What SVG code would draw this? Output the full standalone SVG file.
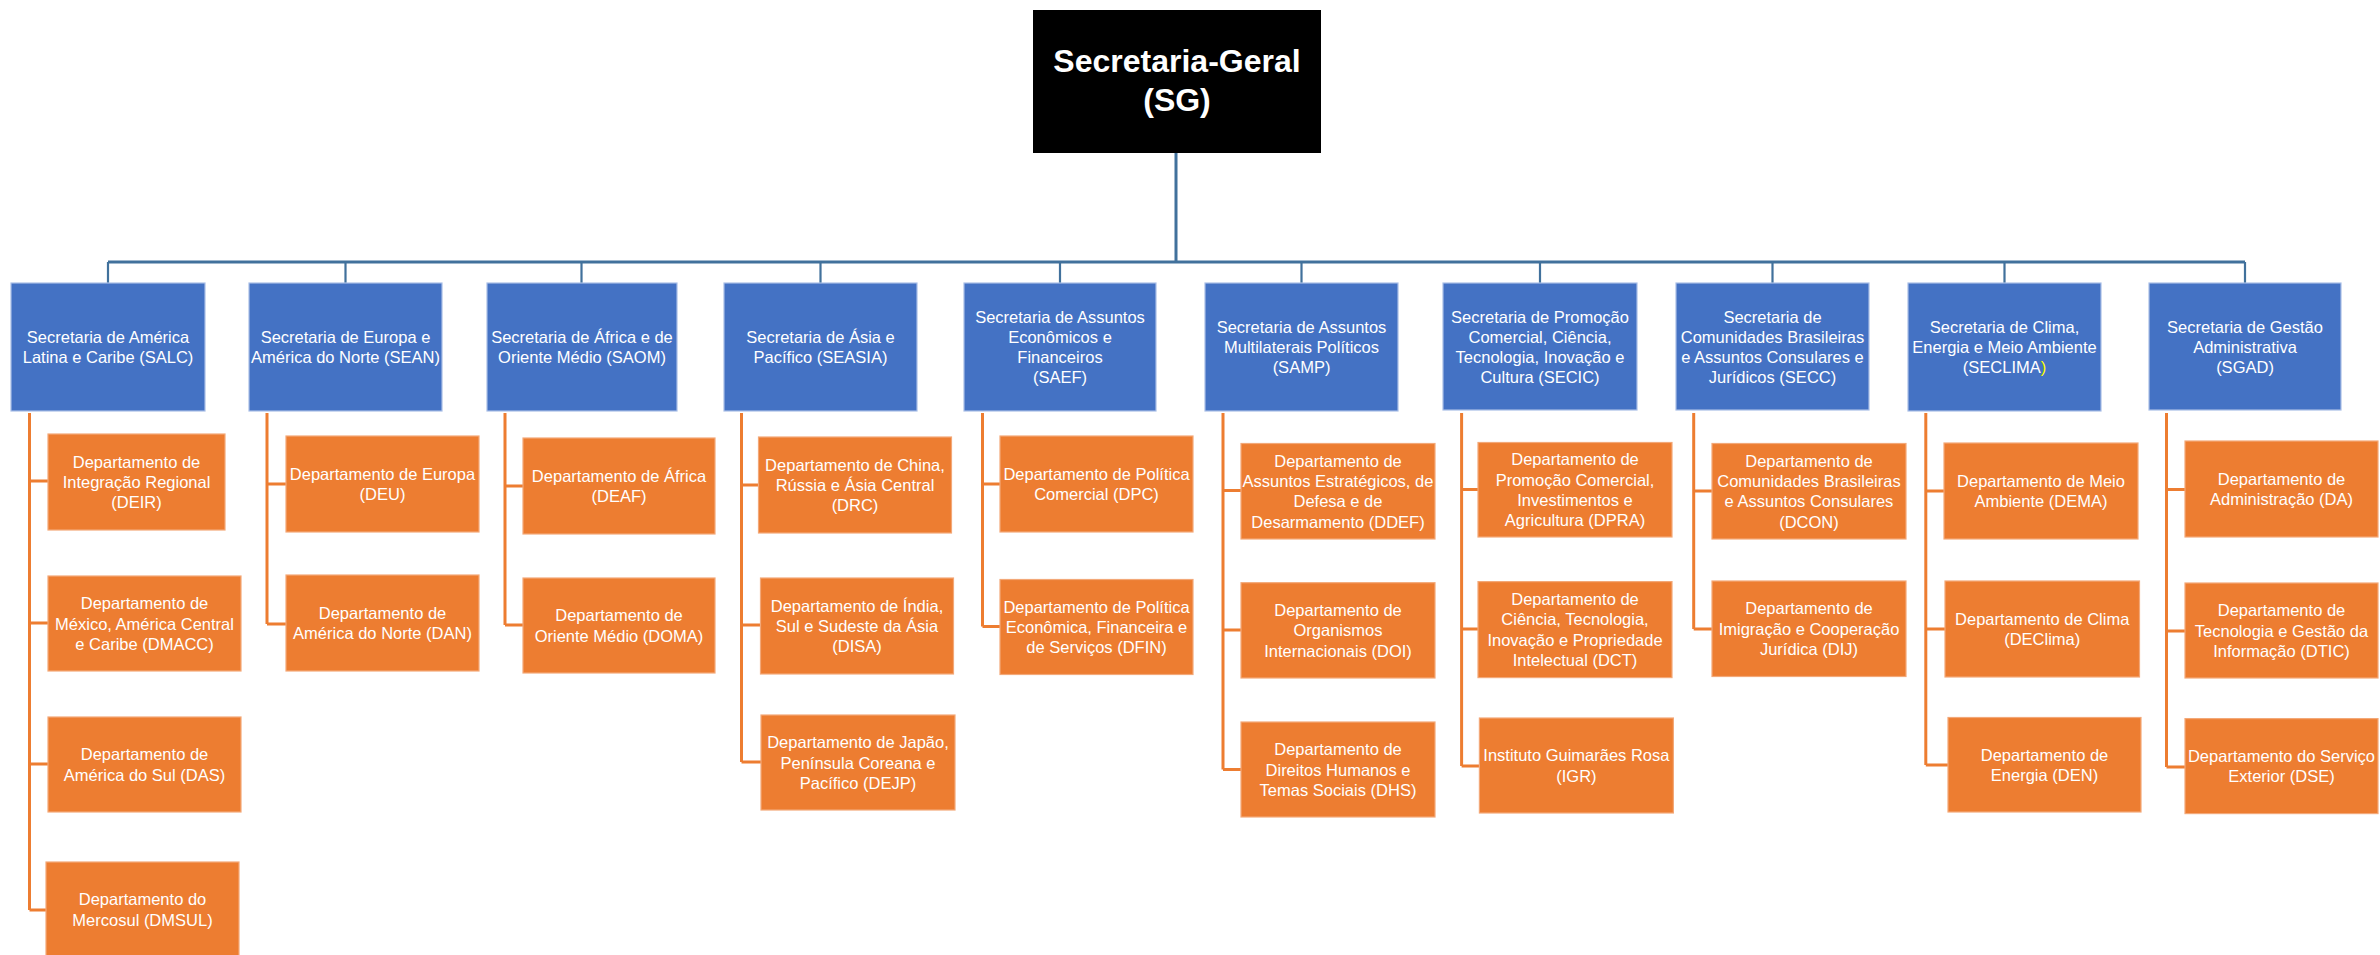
<svg xmlns="http://www.w3.org/2000/svg" width="2380" height="955" viewBox="0 0 2380 955">
<style>
.bg{fill:#ffffff}
.hdr{fill:#000000}
.sec{fill:#4472C4;stroke:#A9BEE6;stroke-width:1.2}
.dep{fill:#ED7D31;stroke:#F3A878;stroke-width:1.2}
.ht{font-family:"Liberation Sans",Arial,sans-serif;font-size:32px;font-weight:bold;fill:#ffffff;text-anchor:middle}
.st{font-family:"Liberation Sans",Arial,sans-serif;font-size:16.5px;fill:#ffffff;text-anchor:middle}
.dt{font-family:"Liberation Sans",Arial,sans-serif;font-size:16.5px;fill:#ffffff;text-anchor:middle}
.cb{stroke:#41719C;fill:none;stroke-width:2.2}
.cbm{stroke:#41719C;fill:none;stroke-width:3}
.co{stroke:#ED7D31;fill:none;stroke-width:3}
</style>
<rect class="bg" x="0" y="0" width="2380" height="955"/>

<g id="connectors">
  <path class="cbm" d="M1176,153 V262 M108,262 H2245"/>
  <path class="cb" d="M108,262 V283 M345.5,262 V283 M581.5,262 V283 M820.5,262 V283 M1060,262 V283 M1301.5,262 V283 M1540,262 V283 M1772.5,262 V283 M2004.5,262 V283 M2245,262 V283"/>
  <path class="co" d="M29.5,413 V910 M29.5,481 H48 M29.5,623 H48 M29.5,764 H48 M29.5,910 H46"/>
  <path class="co" d="M267,413 V624 M267,484 H286 M267,624 H286"/>
  <path class="co" d="M505,413 V625 M505,486 H523 M505,625 H523"/>
  <path class="co" d="M741.5,413 V762 M741.5,485 H758.5 M741.5,625 H760.5 M741.5,762 H761"/>
  <path class="co" d="M982.5,413 V626.5 M982.5,484 H1000 M982.5,626.5 H1000"/>
  <path class="co" d="M1223,413 V769.5 M1223,490.6 H1241 M1223,630 H1241 M1223,769.5 H1241"/>
  <path class="co" d="M1461.6,413 V766 M1461.6,489.6 H1478 M1461.6,629 H1478 M1461.6,766 H1479.4"/>
  <path class="co" d="M1693.7,413 V629 M1693.7,491 H1712 M1693.7,629 H1712"/>
  <path class="co" d="M1925.8,413 V765 M1925.8,491 H1944 M1925.8,629 H1945 M1925.8,765 H1948"/>
  <path class="co" d="M2166.5,413 V767 M2166.5,489.6 H2185 M2166.5,631 H2185 M2166.5,767 H2185"/>
</g>

<g id="SG">
  <rect class="hdr" x="1033" y="10" width="288" height="143"/>
  <text class="ht" x="1177" y="72">Secretaria-Geral</text>
  <text class="ht" x="1177" y="111">(SG)</text>
</g>

<g id="SALC">
  <rect class="sec" x="11" y="283" width="194" height="128"/>
  <text class="st" x="108" y="343">Secretaria de América</text>
  <text class="st" x="108" y="363">Latina e Caribe (SALC)</text>
</g>
<g id="SEAN">
  <rect class="sec" x="249" y="283" width="193" height="128"/>
  <text class="st" x="345.5" y="343">Secretaria de Europa e</text>
  <text class="st" x="345.5" y="363">América do Norte (SEAN)</text>
</g>
<g id="SAOM">
  <rect class="sec" x="487" y="283" width="190" height="128"/>
  <text class="st" x="582" y="343">Secretaria de África e de</text>
  <text class="st" x="582" y="363">Oriente Médio (SAOM)</text>
</g>
<g id="SEASIA">
  <rect class="sec" x="724" y="283" width="193" height="128"/>
  <text class="st" x="820.5" y="343">Secretaria de Ásia e</text>
  <text class="st" x="820.5" y="363">Pacífico (SEASIA)</text>
</g>
<g id="SAEF">
  <rect class="sec" x="964" y="283" width="192" height="128"/>
  <text class="st" x="1060" y="323">Secretaria de Assuntos</text>
  <text class="st" x="1060" y="343">Econômicos e</text>
  <text class="st" x="1060" y="363">Financeiros</text>
  <text class="st" x="1060" y="383">(SAEF)</text>
</g>
<g id="SAMP">
  <rect class="sec" x="1205" y="283" width="193" height="128"/>
  <text class="st" x="1301.5" y="333">Secretaria de Assuntos</text>
  <text class="st" x="1301.5" y="353">Multilaterais Políticos</text>
  <text class="st" x="1301.5" y="373">(SAMP)</text>
</g>
<g id="SECIC">
  <rect class="sec" x="1443" y="283" width="194" height="127"/>
  <text class="st" x="1540" y="323">Secretaria de Promoção</text>
  <text class="st" x="1540" y="343">Comercial, Ciência,</text>
  <text class="st" x="1540" y="363">Tecnologia, Inovação e</text>
  <text class="st" x="1540" y="383">Cultura (SECIC)</text>
</g>
<g id="SECC">
  <rect class="sec" x="1676" y="283" width="193" height="127"/>
  <text class="st" x="1772.5" y="323">Secretaria de</text>
  <text class="st" x="1772.5" y="343">Comunidades Brasileiras</text>
  <text class="st" x="1772.5" y="363">e Assuntos Consulares e</text>
  <text class="st" x="1772.5" y="383">Jurídicos (SECC)</text>
</g>
<g id="SECLIMA">
  <rect class="sec" x="1908" y="283" width="193" height="128"/>
  <text class="st" x="2004.5" y="333">Secretaria de Clima,</text>
  <text class="st" x="2004.5" y="353">Energia e Meio Ambiente</text>
  <text class="st" x="2004.5" y="373">(SECLIMA<tspan fill="#FFFF00">)</tspan></text>
</g>
<g id="SGAD">
  <rect class="sec" x="2149" y="283" width="192" height="127"/>
  <text class="st" x="2245" y="333">Secretaria de Gestão</text>
  <text class="st" x="2245" y="353">Administrativa</text>
  <text class="st" x="2245" y="373">(SGAD)</text>
</g>

<g id="DEIR">
  <rect class="dep" x="48" y="434" width="177" height="96"/>
  <text class="dt" x="136.5" y="467.6">Departamento de</text>
  <text class="dt" x="136.5" y="488">Integração Regional</text>
  <text class="dt" x="136.5" y="508.4">(DEIR)</text>
</g>
<g id="DMACC">
  <rect class="dep" x="48" y="576" width="193" height="95"/>
  <text class="dt" x="144.5" y="609.1">Departamento de</text>
  <text class="dt" x="144.5" y="629.5">México, América Central</text>
  <text class="dt" x="144.5" y="649.9">e Caribe (DMACC)</text>
</g>
<g id="DAS">
  <rect class="dep" x="48" y="717" width="193" height="95"/>
  <text class="dt" x="144.5" y="760.3">Departamento de</text>
  <text class="dt" x="144.5" y="780.7">América do Sul (DAS)</text>
</g>
<g id="DMSUL">
  <rect class="dep" x="46" y="862" width="193" height="95"/>
  <text class="dt" x="142.5" y="905.3">Departamento do</text>
  <text class="dt" x="142.5" y="925.7">Mercosul (DMSUL)</text>
</g>

<g id="DEU">
  <rect class="dep" x="286" y="436" width="193" height="96"/>
  <text class="dt" x="382.5" y="479.8">Departamento de Europa</text>
  <text class="dt" x="382.5" y="500.2">(DEU)</text>
</g>
<g id="DAN">
  <rect class="dep" x="286" y="575" width="193" height="96"/>
  <text class="dt" x="382.5" y="618.8">Departamento de</text>
  <text class="dt" x="382.5" y="639.2">América do Norte (DAN)</text>
</g>

<g id="DEAF">
  <rect class="dep" x="523" y="438" width="192" height="96"/>
  <text class="dt" x="619" y="481.8">Departamento de África</text>
  <text class="dt" x="619" y="502.2">(DEAF)</text>
</g>
<g id="DOMA">
  <rect class="dep" x="523" y="578" width="192" height="95"/>
  <text class="dt" x="619" y="621.3">Departamento de</text>
  <text class="dt" x="619" y="641.7">Oriente Médio (DOMA)</text>
</g>

<g id="DRC">
  <rect class="dep" x="758.5" y="437" width="193" height="96"/>
  <text class="dt" x="855" y="470.6">Departamento de China,</text>
  <text class="dt" x="855" y="491">Rússia e Ásia Central</text>
  <text class="dt" x="855" y="511.4">(DRC)</text>
</g>
<g id="DISA">
  <rect class="dep" x="760.5" y="578" width="193" height="96"/>
  <text class="dt" x="857" y="611.6">Departamento de Índia,</text>
  <text class="dt" x="857" y="632">Sul e Sudeste da Ásia</text>
  <text class="dt" x="857" y="652.4">(DISA)</text>
</g>
<g id="DEJP">
  <rect class="dep" x="761" y="715" width="194" height="95"/>
  <text class="dt" x="858" y="748.1">Departamento de Japão,</text>
  <text class="dt" x="858" y="768.5">Península Coreana e</text>
  <text class="dt" x="858" y="788.9">Pacífico (DEJP)</text>
</g>

<g id="DPC">
  <rect class="dep" x="1000" y="436" width="193" height="96"/>
  <text class="dt" x="1096.5" y="479.8">Departamento de Política</text>
  <text class="dt" x="1096.5" y="500.2">Comercial (DPC)</text>
</g>
<g id="DFIN">
  <rect class="dep" x="1000" y="579.5" width="193" height="95"/>
  <text class="dt" x="1096.5" y="612.6">Departamento de Política</text>
  <text class="dt" x="1096.5" y="633">Econômica, Financeira e</text>
  <text class="dt" x="1096.5" y="653.4">de Serviços (DFIN)</text>
</g>

<g id="DDEF">
  <rect class="dep" x="1241" y="443.5" width="194" height="95.5"/>
  <text class="dt" x="1338" y="466.65">Departamento de</text>
  <text class="dt" x="1338" y="487.05">Assuntos Estratégicos, de</text>
  <text class="dt" x="1338" y="507.45">Defesa e de</text>
  <text class="dt" x="1338" y="527.85">Desarmamento (DDEF)</text>
</g>
<g id="DOI">
  <rect class="dep" x="1241" y="582.7" width="194" height="95.3"/>
  <text class="dt" x="1338" y="615.95">Departamento de</text>
  <text class="dt" x="1338" y="636.35">Organismos</text>
  <text class="dt" x="1338" y="656.75">Internacionais (DOI)</text>
</g>
<g id="DHS">
  <rect class="dep" x="1241" y="722" width="194" height="95"/>
  <text class="dt" x="1338" y="755.1">Departamento de</text>
  <text class="dt" x="1338" y="775.5">Direitos Humanos e</text>
  <text class="dt" x="1338" y="795.9">Temas Sociais (DHS)</text>
</g>

<g id="DPRA">
  <rect class="dep" x="1478" y="442.5" width="194" height="94.5"/>
  <text class="dt" x="1575" y="465.15">Departamento de</text>
  <text class="dt" x="1575" y="485.55">Promoção Comercial,</text>
  <text class="dt" x="1575" y="505.95">Investimentos e</text>
  <text class="dt" x="1575" y="526.35">Agricultura (DPRA)</text>
</g>
<g id="DCT">
  <rect class="dep" x="1478" y="581.6" width="194" height="96"/>
  <text class="dt" x="1575" y="605">Departamento de</text>
  <text class="dt" x="1575" y="625.4">Ciência, Tecnologia,</text>
  <text class="dt" x="1575" y="645.8">Inovação e Propriedade</text>
  <text class="dt" x="1575" y="666.2">Intelectual (DCT)</text>
</g>
<g id="IGR">
  <rect class="dep" x="1479.4" y="718" width="194" height="95"/>
  <text class="dt" x="1576.4" y="761.3">Instituto Guimarães Rosa</text>
  <text class="dt" x="1576.4" y="781.7">(IGR)</text>
</g>

<g id="DCON">
  <rect class="dep" x="1712" y="443.5" width="194" height="95.5"/>
  <text class="dt" x="1809" y="466.65">Departamento de</text>
  <text class="dt" x="1809" y="487.05">Comunidades Brasileiras</text>
  <text class="dt" x="1809" y="507.45">e Assuntos Consulares</text>
  <text class="dt" x="1809" y="527.85">(DCON)</text>
</g>
<g id="DIJ">
  <rect class="dep" x="1712" y="581" width="194" height="95.5"/>
  <text class="dt" x="1809" y="614.35">Departamento de</text>
  <text class="dt" x="1809" y="634.75">Imigração e Cooperação</text>
  <text class="dt" x="1809" y="655.15">Jurídica (DIJ)</text>
</g>

<g id="DEMA">
  <rect class="dep" x="1944" y="443" width="194" height="96"/>
  <text class="dt" x="2041" y="486.8">Departamento de Meio</text>
  <text class="dt" x="2041" y="507.2">Ambiente (DEMA)</text>
</g>
<g id="DEClima">
  <rect class="dep" x="1945" y="581" width="194.5" height="96"/>
  <text class="dt" x="2042.2" y="624.8">Departamento de Clima</text>
  <text class="dt" x="2042.2" y="645.2">(DEClima)</text>
</g>
<g id="DEN">
  <rect class="dep" x="1948" y="717.5" width="193" height="94.5"/>
  <text class="dt" x="2044.5" y="760.55">Departamento de</text>
  <text class="dt" x="2044.5" y="780.95">Energia (DEN)</text>
</g>

<g id="DA">
  <rect class="dep" x="2185" y="441" width="193" height="96"/>
  <text class="dt" x="2281.5" y="484.8">Departamento de</text>
  <text class="dt" x="2281.5" y="505.2">Administração (DA)</text>
</g>
<g id="DTIC">
  <rect class="dep" x="2185" y="583" width="193" height="95"/>
  <text class="dt" x="2281.5" y="616.1">Departamento de</text>
  <text class="dt" x="2281.5" y="636.5">Tecnologia e Gestão da</text>
  <text class="dt" x="2281.5" y="656.9">Informação (DTIC)</text>
</g>
<g id="DSE">
  <rect class="dep" x="2185" y="718.6" width="193" height="95"/>
  <text class="dt" x="2281.5" y="761.9">Departamento do Serviço</text>
  <text class="dt" x="2281.5" y="782.3">Exterior (DSE)</text>
</g>
</svg>
